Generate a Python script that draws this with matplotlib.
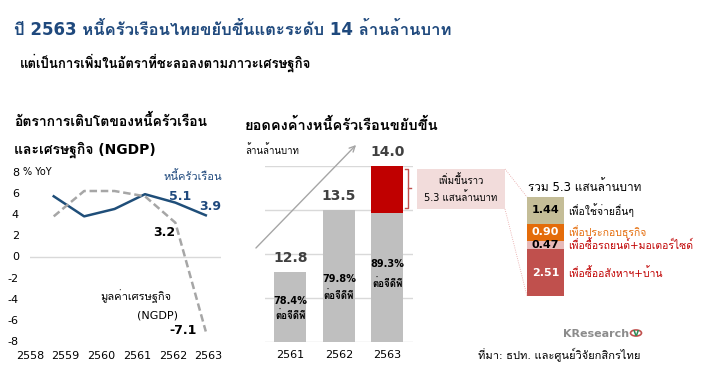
import numpy as np
import matplotlib.pyplot as plt
from matplotlib import font_manager
from matplotlib.patches import Rectangle, Circle
from matplotlib.lines import Line2D
from fontTools.ttLib import TTFont

# look for any installed family that has Thai glyphs
thai_fams = []
for f in font_manager.fontManager.ttflist:
    try:
        tt = TTFont(f.fname, fontNumber=0, lazy=True)
        cmap = tt.getBestCmap()
        if cmap and 0x0E01 in cmap and f.name not in thai_fams:
            thai_fams.append(f.name)
    except Exception:
        pass
plt.rcParams['font.family'] = ['DejaVu Sans'] + thai_fams + ['Noto Sans', 'Noto Sans CJK SC']

# data
years_growth = ['2558', '2559', '2560', '2561', '2562', '2563']
hh_debt_growth = [5.7, 3.8, 4.5, 5.9, 5.1, 3.9]
ngdp_growth = [3.8, 6.2, 6.2, 5.7, 3.2, -7.1]

years_debt = ['2561', '2562', '2563']
debt_level = [12.8, 13.5, 14.0]
debt_to_gdp = ['78.4%', '79.8%', '89.3%']
increase_2563 = 0.53

purpose_values = [2.51, 0.47, 0.90, 1.44]
purpose_labels = ['เพื่อซื้ออสังหาฯ+บ้าน', 'เพื่อซื้อรถยนต์+มอเตอร์ไซด์', 'เพื่อประกอบธุรกิจ', 'เพื่อใช้จ่ายอื่นๆ']
purpose_colors = ['#c0504d', '#e6b9b8', '#e46c0a', '#c4bd97']
purpose_text_colors = ['#c00000', '#c00000', '#e46c0a', 'black']
purpose_value_colors = ['white', 'black', 'white', 'black']

W, H = 710, 392
def fx(px):
    return px / W
def fy(py):
    return 1 - py / H
def box(l, t, r, b):
    return [fx(l), fy(b), (r - l) / W, (b - t) / H]

fig = plt.figure(figsize=(7.1, 3.92), dpi=100)

navy = '#1f497d'
fig.text(fx(14), fy(30), 'ปี 2563 หนี้ครัวเรือนไทยขยับขึ้นแตะระดับ 14 ล้านล้านบาท',
         fontsize=12, fontweight='bold', color=navy, va='center')
fig.text(fx(20), fy(63), 'แต่เป็นการเพิ่มในอัตราที่ชะลอลงตามภาวะเศรษฐกิจ',
         fontsize=9.5, fontweight='bold', color='black', va='center')

# left: growth lines
ax1 = fig.add_axes(box(30, 172, 221, 341))
x = np.arange(len(years_growth))
ax1.plot(x, hh_debt_growth, color='#1f4e79', lw=1.8)
ax1.plot(x, ngdp_growth, color='#a6a6a6', lw=1.8, ls=(0, (3, 1.5)))
ax1.axhline(0, color='#d9d9d9', lw=1)
ax1.set_xlim(-0.47, 5.5)
ax1.set_ylim(-8, 8)
ax1.set_yticks(np.arange(-8, 9, 2))
ax1.set_yticklabels([str(v) for v in range(-8, 9, 2)], fontsize=8)
ax1.set_xticks(np.linspace(-0.78, 5.09, 6))
ax1.set_xticklabels(years_growth, fontsize=8)
ax1.tick_params(axis='x', length=0, pad=7)
ax1.tick_params(axis='y', length=0, pad=8)
for s in ax1.spines.values():
    s.set_visible(False)
fig.text(fx(23), fy(172), '% YoY', fontsize=7, va='center')
ax1.text(5.53, 7.6, 'หนี้ครัวเรือน', color=navy, fontsize=8, ha='right', va='center')
ax1.text(4.15, 5.7, '5.1', color=navy, fontsize=9, fontweight='bold', ha='center', va='center')
ax1.text(5.15, 4.7, '3.9', color=navy, fontsize=9, fontweight='bold', ha='center', va='center')
ax1.text(3.65, 2.3, '3.2', color='black', fontsize=9, fontweight='bold', ha='center', va='center')
ax1.text(4.25, -7.0, '-7.1', color='black', fontsize=9, fontweight='bold', ha='center', va='center')
ax1.text(2.7, -3.7, 'มูลค่าเศรษฐกิจ', fontsize=8, ha='center', va='center')
ax1.text(3.4, -5.6, '(NGDP)', fontsize=8, ha='center', va='center')
fig.text(fx(14), fy(121), 'อัตราการเติบโตของหนี้ครัวเรือน', fontsize=10, fontweight='bold', va='center')
fig.text(fx(14), fy(150), 'และเศรษฐกิจ (NGDP)', fontsize=10, fontweight='bold', va='center')

# middle: debt level bars
ax2 = fig.add_axes(box(265, 166, 413, 342))
xb = np.arange(len(years_debt))
gray_part = debt_level[:2] + [debt_level[2] - increase_2563]
ax2.bar(xb, gray_part, width=0.66, color='#bfbfbf', zorder=2)
ax2.bar(xb[2], increase_2563, bottom=gray_part[2], width=0.66, color='#c00000', zorder=2)
ax2.set_xlim(-0.526, 2.53)
ax2.set_ylim(12, 14)
ax2.set_yticks(np.arange(12, 14.01, 0.5))
ax2.yaxis.grid(True, color='#d9d9d9', lw=1)
ax2.set_yticklabels([])
ax2.set_xticks(xb)
ax2.set_xticklabels(years_debt, fontsize=8)
ax2.tick_params(length=0, pad=6)
for s in ax2.spines.values():
    s.set_visible(False)
for i, v in enumerate(debt_level):
    ax2.text(xb[i], v + 0.08, f'{v:.1f}', ha='center', va='bottom', fontsize=10,
             fontweight='bold', color='#404040', clip_on=False)
pct_y = [12.47, 12.72, 12.89]
per_gdp_y = [12.30, 12.53, 12.66]
for i, p in enumerate(debt_to_gdp):
    ax2.text(xb[i], pct_y[i], p, ha='center', va='center', fontsize=7, fontweight='bold', zorder=3)
    ax2.text(xb[i], per_gdp_y[i], 'ต่อจีดีพี', ha='center', va='center', fontsize=7, fontweight='bold', zorder=3)
# bracket
bx = 2.43
ax2.plot([bx - 0.06, bx, bx, bx - 0.06], [13.97, 13.97, 13.52, 13.52], color='#c0504d', lw=1, clip_on=False)
ax2.plot([bx, bx + 0.06], [13.745, 13.745], color='#c0504d', lw=1, clip_on=False)
fig.text(fx(245), fy(125), 'ยอดคงค้างหนี้ครัวเรือนขยับขึ้น', fontsize=10.5, fontweight='bold', va='center')
fig.text(fx(245), fy(150), 'ล้านล้านบาท', fontsize=7, va='center')
ax2.annotate('', xy=(fx(358), fy(143)), xytext=(fx(254), fy(250)), xycoords='figure fraction',
             textcoords='figure fraction',
             arrowprops=dict(arrowstyle='->', color='#a6a6a6', lw=1))

# pink callout
fig.add_artist(Rectangle((fx(417), fy(209)), 88 / W, 40 / H, facecolor='#f2dcdb', edgecolor='none'))
fig.text(fx(461), fy(180), 'เพิ่มขึ้นราว', fontsize=7, ha='center', va='center')
fig.text(fx(461), fy(197), '5.3 แสนล้านบาท', fontsize=7, ha='center', va='center')
fig.add_artist(Line2D([fx(505), fx(527)], [fy(169), fy(197)], color='#e6a0a0', lw=0.6, ls=':'))
fig.add_artist(Line2D([fx(505), fx(527)], [fy(209), fy(296)], color='#e6a0a0', lw=0.6, ls=':'))

# right: composition of increase
ax3 = fig.add_axes(box(527, 197, 564, 296))
bottom = 0
for v, c, tc, vc, lab in zip(purpose_values, purpose_colors, purpose_text_colors, purpose_value_colors, purpose_labels):
    ax3.bar(0.5, v, bottom=bottom, width=1, color=c)
    ax3.text(0.5, bottom + v / 2, f'{v:.2f}', ha='center', va='center', fontsize=8, fontweight='bold', color=vc)
    ax3.text(1.1, bottom + v / 2, lab, ha='left', va='center', fontsize=7.5, color=tc, clip_on=False)
    bottom += v
ax3.set_xlim(0, 1)
ax3.set_ylim(0, sum(purpose_values))
ax3.axis('off')
fig.text(fx(528), fy(187), 'รวม 5.3 แสนล้านบาท', fontsize=8.5, va='center')

# source and logo
fig.text(fx(478), fy(354), 'ที่มา: ธปท. และศูนย์วิจัยกสิกรไทย', fontsize=8, va='center')
fig.text(fx(629), fy(334), 'KResearch', fontsize=8, fontweight='bold', color='#8c8c8c', ha='right', va='center')
fig.add_artist(Circle((fx(636), fy(333)), 5.5 / W, facecolor='white', edgecolor='#c0504d', lw=1.2,
                      transform=fig.transFigure))
fig.text(fx(636), fy(333), 'v', fontsize=7, fontweight='bold', color='#2e8b57', ha='center', va='center')

fig.savefig('out.png', dpi=100)
